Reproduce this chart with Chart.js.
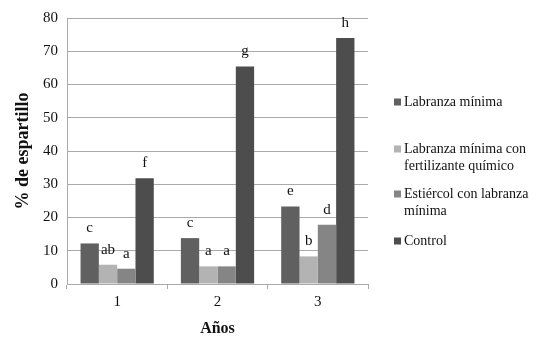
<!DOCTYPE html>
<html><head><meta charset="utf-8">
<script src="https://cdn.jsdelivr.net/npm/chart.js@4"></script>
<style>html,body{margin:0;padding:0;background:#fff}#wrap{width:552px;height:342px}</style>
</head><body><div id="wrap"><canvas id="c" width="552" height="342"></canvas></div>
<script>
const categories = ["1", "2", "3"];
const seriesNames = [["Labranza mínima"], ["Labranza mínima con", "fertilizante químico"], ["Estiércol con labranza", "mínima"], ["Control"]];
const labranza = [12.2, 13.8, 23.3];
const labranzaFert = [5.8, 5.3, 8.3];
const estiercol = [4.6, 5.3, 17.8];
const control = [31.8, 65.4, 74.0];
const letras = [["c","c","e"],["ab","a","b"],["a","a","d"],["f","g","h"]];
const yTicks = [0,10,20,30,40,50,60,70,80];
const colors = ["#606060", "#b3b3b3", "#858585", "#4d4d4d"];
const serif = "'Liberation Serif', 'DejaVu Serif', serif";

const letterPlugin = {
  id: 'letters',
  afterDatasetsDraw(chart) {
    const ctx = chart.ctx;
    ctx.save();
    ctx.font = "15px " + serif;
    ctx.fillStyle = "#111";
    ctx.textAlign = "center";
    ctx.textBaseline = "middle";
    chart.data.datasets.forEach((ds, i) => {
      chart.getDatasetMeta(i).data.forEach((bar, j) => {
        ctx.fillText(letras[i][j], bar.x, bar.y - 15);
      });
    });
    ctx.restore();
  }
};

const legendPlugin = {
  id: 'customLegend',
  afterDraw(chart) {
    const ctx = chart.ctx;
    const ys = [102, 149, 194, 241];
    ctx.save();
    ctx.font = "14px " + serif;
    ctx.textBaseline = "middle";
    ctx.textAlign = "left";
    chart.data.datasets.forEach((ds, i) => {
      ctx.fillStyle = ds.backgroundColor;
      ctx.fillRect(394, ys[i] - 3.5, 7, 7);
      ctx.fillStyle = "#111";
      seriesNames[i].forEach((line, k) => {
        ctx.fillText(line, 404, ys[i] + k * 17);
      });
    });
    ctx.restore();
  }
};

new Chart(document.getElementById('c'), {
  type: 'bar',
  data: {
    labels: categories,
    datasets: [
      { label: seriesNames[0].join(' '), data: labranza, backgroundColor: colors[0] },
      { label: seriesNames[1].join(' '), data: labranzaFert, backgroundColor: colors[1] },
      { label: seriesNames[2].join(' '), data: estiercol, backgroundColor: colors[2] },
      { label: seriesNames[3].join(' '), data: control, backgroundColor: colors[3] }
    ]
  },
  options: {
    responsive: false,
    animation: false,
    devicePixelRatio: 1,
    layout: { padding: { top: 17, right: 184, left: 9, bottom: 0 } },
    datasets: { bar: { categoryPercentage: 0.73, barPercentage: 1, borderWidth: 0 } },
    plugins: { legend: { display: false }, tooltip: { enabled: false } },
    scales: {
      x: {
        grid: { display: true, drawOnChartArea: false, drawTicks: true, tickLength: 5, color: '#aaaaaa', offset: true },
        border: { display: true, color: '#aaaaaa' },
        ticks: { color: '#111', font: { family: serif, size: 15 }, padding: 4 },
        title: { display: true, text: 'Años', color: '#111', font: { family: serif, size: 16, weight: 'bold' }, padding: { top: 3 } },
        afterFit(s) { s.height = 58; }
      },
      y: {
        min: 0, max: 80,
        afterBuildTicks(s) { s.ticks = yTicks.map(v => ({ value: v })); },
        grid: { color: '#aaaaaa', drawTicks: false },
        border: { display: true, color: '#aaaaaa' },
        ticks: { color: '#111', font: { family: serif, size: 15 }, padding: 9 },
        title: { display: true, text: '% de espartillo', color: '#111', font: { family: serif, size: 18, weight: 'bold' }, padding: { bottom: 4 } },
        afterFit(s) { s.width = 58; }
      }
    }
  },
  plugins: [letterPlugin, legendPlugin]
});
</script></body></html>
